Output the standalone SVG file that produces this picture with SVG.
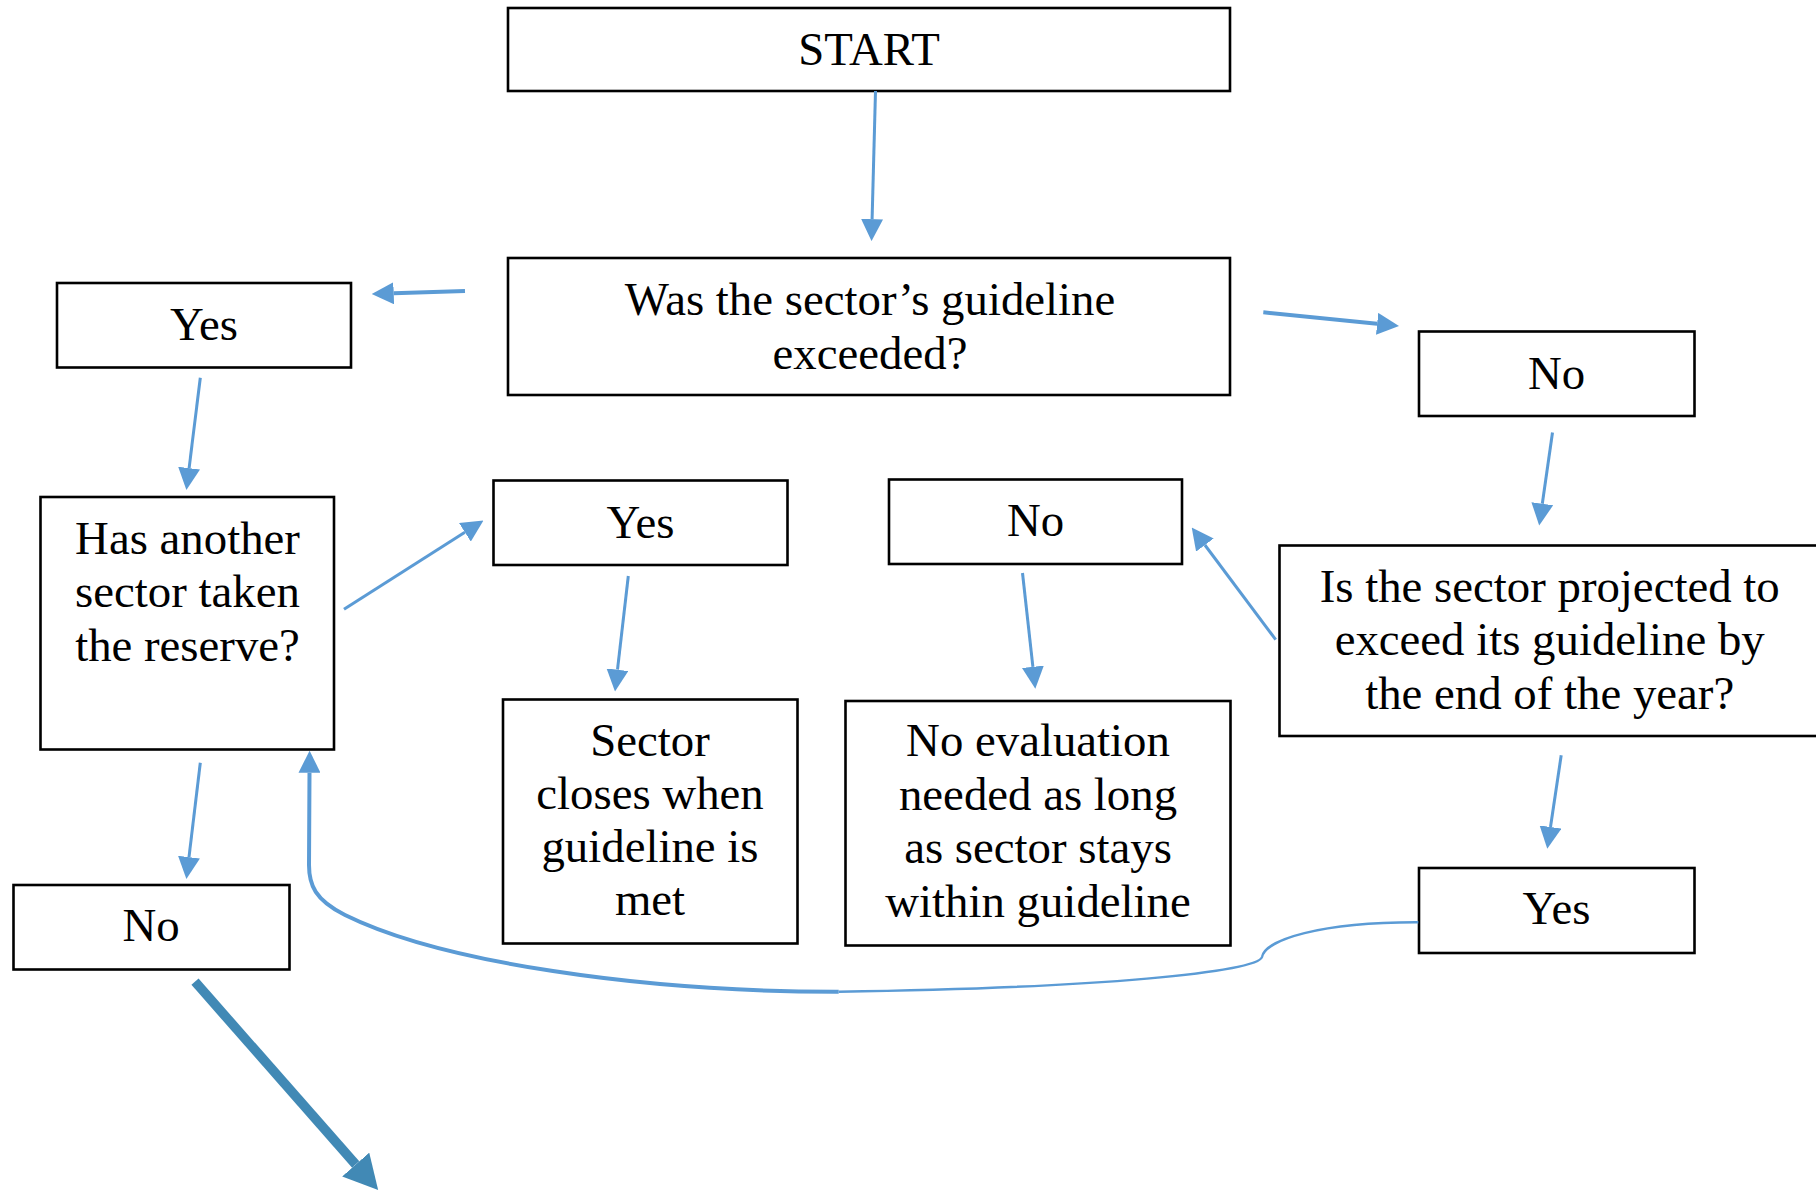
<svg xmlns="http://www.w3.org/2000/svg" width="1816" height="1191" viewBox="0 0 1816 1191">
<defs>
<style>
.box{fill:#fff;stroke:#000;stroke-width:2.6}
.t{font-family:"Liberation Serif","Times New Roman",serif;font-size:46.8px;fill:#000;text-anchor:middle}
.c{fill:none;stroke:#5B9BD5;stroke-width:3}
.cw{fill:none;stroke:#5B9BD5;stroke-width:4}
</style>
<marker id="ah" markerUnits="userSpaceOnUse" markerWidth="22" markerHeight="22" viewBox="0 0 22 22" refX="0" refY="11" orient="auto">
<path d="M0,0 L22,11 L0,22 Z" fill="#5B9BD5"/>
</marker>
<marker id="ahb" markerUnits="userSpaceOnUse" markerWidth="34" markerHeight="36" viewBox="0 0 34 36" refX="0" refY="18" orient="auto">
<path d="M0,0 L34,18 L0,36 Z" fill="#4189B5"/>
</marker>
</defs>
<rect width="1816" height="1191" fill="#fff"/>

<g id="start"><rect class="box" x="508" y="8" width="722" height="83"/><text class="t" x="869" y="64.5">START</text></g>
<g id="q1"><rect class="box" x="508" y="258" width="722" height="137"/><text class="t" x="870" y="315">Was the sector’s guideline</text><text class="t" x="870" y="368.6">exceeded?</text></g>
<g id="yes1"><rect class="box" x="57" y="283" width="294" height="84.5"/><text class="t" x="204" y="340">Yes</text></g>
<g id="no1"><rect class="box" x="1419" y="331.5" width="275.5" height="84.5"/><text class="t" x="1556.5" y="388.8">No</text></g>
<g id="has"><rect class="box" x="40.5" y="497" width="293.5" height="252.5"/><text class="t" x="187.5" y="553.5">Has another</text><text class="t" x="187.5" y="607">sector taken</text><text class="t" x="187.5" y="660.6">the reserve?</text></g>
<g id="yes2"><rect class="box" x="493.5" y="480.5" width="294" height="84.5"/><text class="t" x="640.5" y="537.5">Yes</text></g>
<g id="no2"><rect class="box" x="889" y="479.5" width="293" height="84.5"/><text class="t" x="1035.5" y="536.2">No</text></g>
<g id="q2"><rect class="box" x="1279.5" y="545.5" width="545" height="190.5"/><text class="t" x="1549.7" y="601.5">Is the sector projected to</text><text class="t" x="1549.7" y="655.3">exceed its guideline by</text><text class="t" x="1549.7" y="709.4">the end of the year?</text></g>
<g id="sector"><rect class="box" x="503" y="699.5" width="294.5" height="244"/><text class="t" x="650" y="756">Sector</text><text class="t" x="650" y="808.8">closes when</text><text class="t" x="650" y="862.3">guideline is</text><text class="t" x="650" y="915">met</text></g>
<g id="noeval"><rect class="box" x="845.5" y="701" width="385" height="244.5"/><text class="t" x="1038" y="756">No evaluation</text><text class="t" x="1038" y="809.5">needed as long</text><text class="t" x="1038" y="863">as sector stays</text><text class="t" x="1038" y="917">within guideline</text></g>
<g id="no3"><rect class="box" x="13.5" y="885" width="276" height="84.5"/><text class="t" x="151" y="941.4">No</text></g>
<g id="yes3"><rect class="box" x="1419" y="868" width="275.5" height="85"/><text class="t" x="1556.5" y="923.8">Yes</text></g>

<g id="connectors">
<line class="c" x1="875.5" y1="91" x2="872.1" y2="219.1" marker-end="url(#ah)"/>
<line class="cw" x1="465" y1="291" x2="393.7" y2="293.3" marker-end="url(#ah)"/>
<line class="cw" x1="1263.3" y1="312.3" x2="1377.1" y2="323.8" marker-end="url(#ah)"/>
<line class="c" x1="200.3" y1="377.7" x2="189.1" y2="468.1" marker-end="url(#ah)"/>
<line class="c" x1="344" y1="609.2" x2="464.9" y2="532.3" marker-end="url(#ah)"/>
<line class="c" x1="628.3" y1="576" x2="617.5" y2="669.7" marker-end="url(#ah)"/>
<line class="c" x1="1552.5" y1="432.5" x2="1542.3" y2="503.7" marker-end="url(#ah)"/>
<line class="c" x1="1275.7" y1="639.6" x2="1204.9" y2="545" marker-end="url(#ah)"/>
<line class="c" x1="1022.5" y1="573" x2="1032.9" y2="666.8" marker-end="url(#ah)"/>
<line class="c" x1="200.3" y1="762.8" x2="189" y2="857.1" marker-end="url(#ah)"/>
<line class="c" x1="1561.2" y1="755.3" x2="1550.5" y2="827" marker-end="url(#ah)"/>
<path fill="none" stroke="#5B9BD5" stroke-width="2.4" d="M1418.3,922.3 C1320,922 1265,940 1262,957 C1258,972 1100,988 838.7,991.7"/>
<path class="cw" d="M838.7,991.7 C640,992 440,962 345,915 C315,900 309,885 309,865 L309.5,772.7" marker-end="url(#ah)"/>
<line stroke="#4189B5" stroke-width="9.5" x1="195" y1="981.7" x2="355.7" y2="1164.5" marker-end="url(#ahb)"/>
</g>
</svg>
